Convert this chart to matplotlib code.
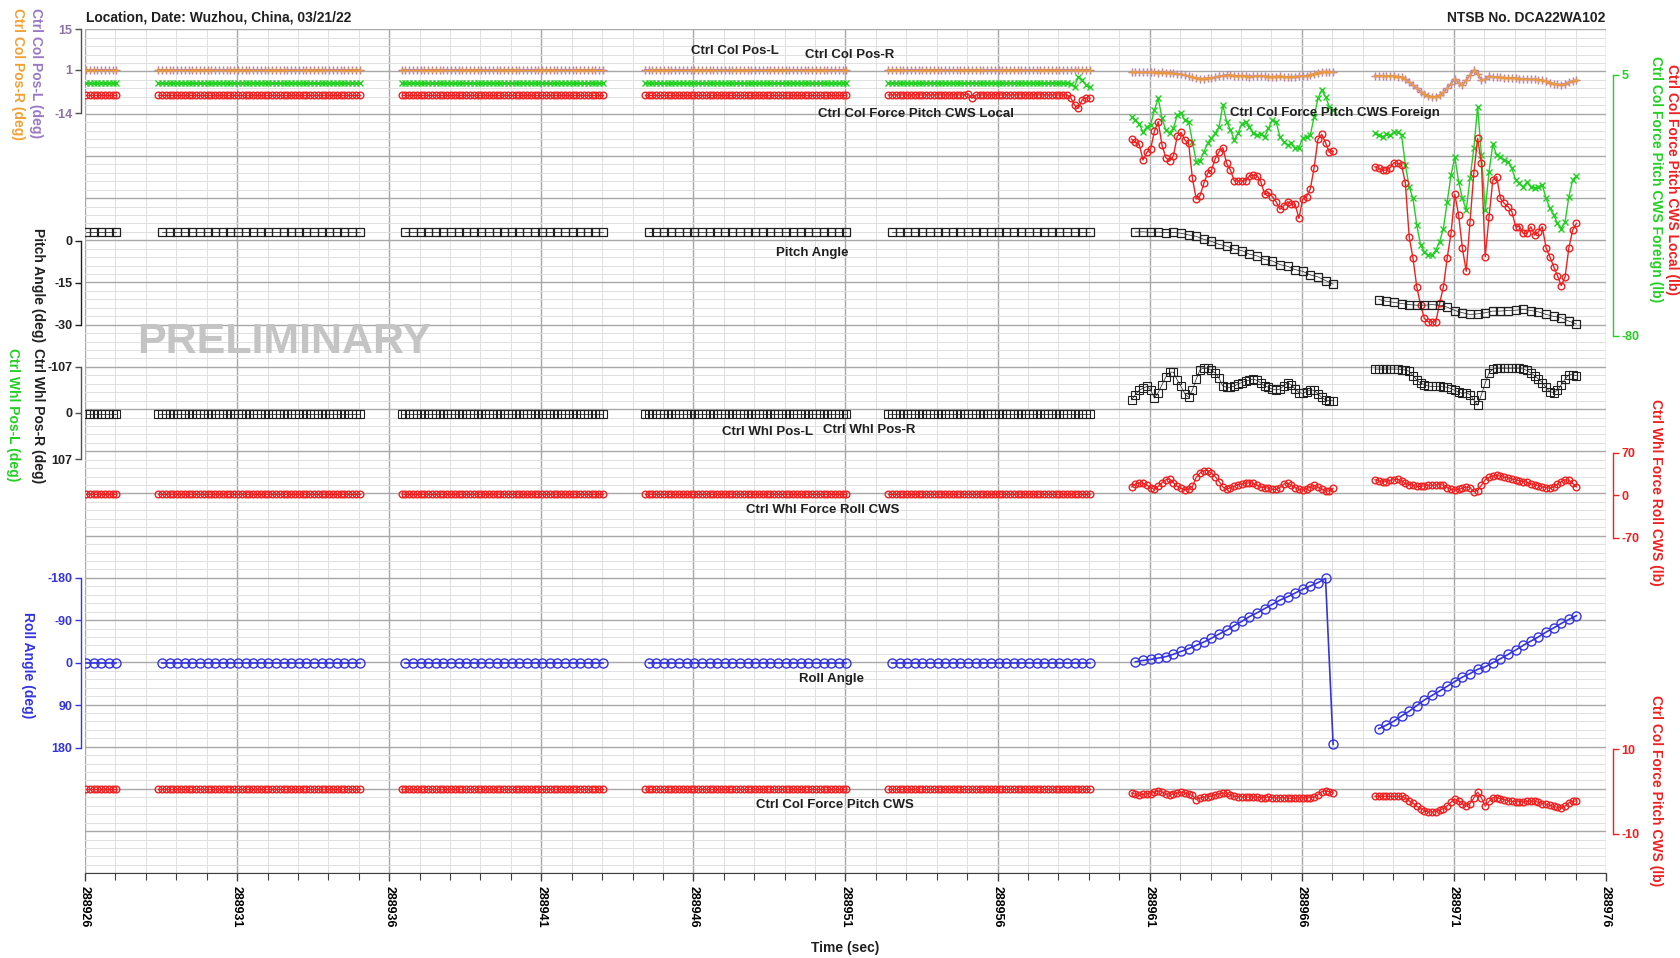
import numpy as np
import matplotlib
matplotlib.use("Agg")
import matplotlib.pyplot as plt
from matplotlib.ticker import MultipleLocator

plt.rcParams['font.family'] = ['Liberation Sans', 'DejaVu Sans']
plt.rcParams['font.weight'] = 'bold'

# ---------------- data ----------------
T_MIN, T_MAX = 288926, 288976
X_TICKS = list(range(288926, 288977, 5))
# end time of each recorded data block (7 blocks, first one clipped by the x-range)
SEG_END = [288927.03, 288935.03, 288943.03, 288951.03, 288959.03, 288967.03, 288975.03]
N8_FLAT = [9, 54, 54, 54, 54]      # 8 Hz samples in blocks A-E
N4_FLAT = [5, 27, 27, 27, 27]      # 4 Hz samples in blocks A-E

# constant levels in the quiet blocks A-E
COLPOS_FLAT = 0.8
LOCAL_FLAT = -1.5
FOREIGN_FLAT = 2.3
PITCH_FLAT = 2.9
WHLPOS_FLAT = 1.5
WHLF_FLAT = 2.5
ROLL_FLAT = 0.0
COLCWS_FLAT = 0.45

# block E with small disturbances (8 Hz)
LOCAL_E = [LOCAL_FLAT] * 21 + [-1.1, -2.6] + [LOCAL_FLAT] * 25 + [-2.4, -4.8, -5.8, -3.1, -2.4, -2.6]
FOREIGN_E = [FOREIGN_FLAT] * 48 + [2.0, 1.2, 4.5, 3.4, 1.8, 1.2]

# Ctrl Col Pos-L / -R (deg), 8 Hz, blocks F and G
COLPOS_F = [0.2, 0.3, 0.2, 0.1, 0.2, 0.3, 0.2, 0.0, 0.1, 0.0,
            -0.1, -0.2, -0.3, -0.5, -0.8, -1.2, -1.6, -1.9, -2.0, -2.0,
            -1.9, -1.8, -1.6, -1.2, -1.0, -0.8, -0.9, -1.0, -1.1, -1.0,
            -1.2, -1.3, -1.2, -1.1, -1.0, -1.2, -1.3, -1.4, -1.3, -1.2,
            -1.4, -1.5, -1.4, -1.3, -1.2, -1.1, -1.0, -0.8, -0.4, 0.0,
            0.3, 0.4, 0.3, 0.2]
COLPOS_G = [-1.0, -1.1, -1.0, -1.2, -1.1, -1.2, -1.3, -1.5, -2.2, -3.2,
            -4.3, -5.4, -6.5, -7.4, -8.0, -8.3, -8.2, -7.8, -6.8, -5.4,
            -3.8, -2.0, -3.4, -4.3, -2.6, -0.8, 0.8, -0.4, -2.6, -2.2,
            -1.2, -1.4, -1.5, -1.6, -1.7, -1.8, -1.8, -1.9, -2.0, -2.1,
            -2.2, -2.3, -2.3, -2.4, -2.6, -3.0, -3.4, -3.8, -4.0, -4.1,
            -3.8, -3.3, -2.9, -2.6]

# Ctrl Col Force Pitch CWS Local / Foreign (lb), 8 Hz
LOCAL_F = [-15.9, -16.9, -17.6, -22.7, -20.2, -19.1, -13.3, -10.2, -17.8, -21.9,
           -23.0, -21.3, -14.9, -13.7, -16.2, -17.3, -28.7, -35.4, -34.3, -30.3,
           -27.0, -26.0, -22.2, -20.0, -18.7, -23.8, -26.0, -29.5, -29.5, -29.5,
           -29.5, -27.8, -27.6, -27.8, -29.8, -33.9, -33.2, -34.6, -36.3, -38.7,
           -37.6, -36.3, -37.0, -37.1, -41.7, -35.4, -34.6, -32.1, -25.2, -16.0,
           -14.3, -17.0, -20.2, -19.8]
FOREIGN_F = [-8.6, -9.7, -10.8, -13.7, -11.8, -11.3, -6.4, -2.6, -9.1, -12.9,
             -14.0, -12.4, -8.0, -7.5, -9.7, -10.2, -16.7, -23.2, -23.0, -20.0,
             -17.3, -15.6, -14.0, -11.8, -4.8, -10.2, -12.9, -16.2, -14.0, -10.8,
             -10.2, -11.8, -14.0, -14.6, -14.3, -15.1, -12.4, -9.7, -10.2, -15.1,
             -16.7, -17.8, -17.3, -18.9, -18.7, -15.6, -15.1, -14.6, -8.6, -2.6,
             0.1, -2.1, -5.3, -6.4]
LOCAL_G = [-24.9, -25.4, -26.0, -26.0, -25.2, -23.5, -23.8, -24.3, -30.3, -47.7,
           -54.7, -64.0, -69.9, -74.3, -75.4, -75.4, -75.4, -69.4, -64.0, -54.5,
           -46.6, -33.9, -40.6, -51.5, -58.9, -42.8, -27.0, -15.6, -23.8, -54.2,
           -41.2, -29.2, -28.1, -35.2, -36.8, -37.9, -39.5, -44.4, -44.4, -46.6,
           -46.6, -44.4, -47.1, -46.0, -44.4, -51.3, -54.2, -57.4, -60.4, -63.6,
           -60.7, -51.3, -45.5, -43.3]
FOREIGN_G = [-14.0, -14.6, -15.1, -14.3, -14.6, -13.7, -13.5, -14.6, -24.3, -31.4,
             -35.2, -43.9, -50.4, -52.6, -53.7, -53.7, -52.0, -49.3, -45.0, -36.3,
             -27.6, -21.6, -29.8, -35.2, -39.0, -28.7, -18.9, -5.3, -21.1, -39.0,
             -26.5, -17.6, -21.1, -21.6, -22.7, -23.2, -25.4, -29.2, -30.3, -31.4,
             -29.8, -31.4, -31.9, -31.4, -30.8, -35.2, -38.4, -40.6, -43.3, -45.0,
             -42.8, -34.6, -29.2, -27.8]

# Pitch Angle (deg), 4 Hz
PITCH_F = [3.0, 3.1, 2.9, 3.0, 2.8, 2.9, 2.6, 2.0, 1.5, 0.4,
           -0.3, -1.4, -2.0, -3.1, -3.6, -4.9, -5.5, -6.8, -7.3, -8.6,
           -9.2, -10.4, -11.0, -12.3, -13.0, -14.3, -15.6]
PITCH_G = [-21.1, -21.7, -22.1, -22.5, -22.9, -23.1, -23.1, -22.9, -23.1, -23.8,
           -25.0, -25.8, -26.4, -26.2, -25.8, -25.2, -25.2, -25.0, -24.9, -24.6,
           -25.0, -25.5, -26.4, -27.1, -27.6, -28.8, -29.8]

# Ctrl Whl Pos-R (deg), 8 Hz
WHLPOS_F = [-30, -42, -52, -57, -61, -53, -34, -47, -65, -83,
            -94, -94, -76, -61, -44, -36, -53, -78, -100, -103,
            -103, -98, -92, -80, -62, -59, -59, -62, -67, -70,
            -73, -76, -78, -75, -69, -62, -59, -55, -53, -55,
            -62, -69, -65, -55, -47, -45, -49, -53, -52, -44,
            -36, -30, -28, -28]
WHLPOS_G = [-101, -101, -101, -101, -101, -101, -101, -100, -99, -96,
            -86, -76, -69, -65, -62, -61, -61, -61, -60, -59,
            -56, -52, -48, -45, -47, -42, -30, -18, -42, -69,
            -92, -101, -103, -103, -103, -103, -103, -103, -103, -101,
            -98, -92, -86, -78, -70, -59, -49, -47, -52, -65,
            -78, -88, -88, -86]

# Ctrl Whl Force Roll CWS (lb), 8 Hz
WHLF_F = [14, 19, 21, 20, 17, 13, 10, 15, 21, 26,
          27, 21, 15, 12, 9, 10, 15, 30, 37, 41,
          41, 37, 31, 23, 14, 10, 13, 15, 18, 19,
          20, 21, 20, 17, 14, 13, 12, 10, 10, 13,
          19, 20, 17, 13, 10, 9, 11, 14, 17, 14,
          10, 8, 7, 12]
WHLF_G = [26, 24, 22, 23, 25, 26, 27, 24, 20, 18,
          17, 15, 15, 16, 17, 17, 17, 18, 17, 13,
          10, 9, 10, 12, 14, 13, 6, 8, 17, 26,
          30, 32, 33, 32, 30, 29, 27, 26, 24, 23,
          22, 19, 17, 16, 14, 13, 12, 14, 19, 23,
          26, 25, 20, 14]

# Roll Angle (deg), 4 Hz
ROLL_F = [-2, -5, -7, -10, -13, -18, -24, -30, -37, -44,
          -52, -61, -69, -79, -88, -98, -106, -115, -124, -133,
          -140, -148, -156, -163, -170, -179, 173.5]
ROLL_G = [140, 132.5, 124, 113, 103, 91, 79, 69.5, 60, 50,
          40, 30.5, 23, 14, 8.5, 0, -8.5, -17.6, -27, -37,
          -46, -55, -65, -74, -83.5, -92, -100]

# Ctrl Col Force Pitch CWS (lb), 8 Hz
COLCWS_F = [-0.4, -0.7, -1.0, -0.7, -0.6, -0.6, -0.2, 0.1, -0.2, -0.6,
            -1.0, -0.6, -0.4, -0.2, -0.4, -0.7, -1.0, -2.0, -1.6, -1.4,
            -1.3, -1.2, -0.8, -0.6, -0.4, -0.5, -1.0, -1.2, -1.3, -1.3,
            -1.4, -1.4, -1.3, -1.4, -1.5, -1.5, -1.4, -1.5, -1.6, -1.6,
            -1.5, -1.6, -1.7, -1.6, -1.6, -1.5, -1.6, -1.5, -1.4, -0.8,
            -0.1, 0.1, -0.1, -0.4]
COLCWS_G = [-1.2, -1.2, -1.2, -1.2, -1.2, -1.2, -1.2, -1.2, -1.6, -2.3,
            -2.8, -3.6, -4.1, -4.6, -4.9, -4.9, -4.8, -4.5, -4.1, -3.4,
            -2.6, -1.8, -2.3, -3.0, -3.5, -2.9, -1.6, -0.2, -1.6, -3.5,
            -2.4, -1.5, -1.6, -1.8, -2.0, -2.2, -2.4, -2.5, -2.5, -2.5,
            -2.4, -2.3, -2.4, -2.6, -2.9, -3.1, -3.3, -3.6, -3.8, -4.0,
            -3.5, -2.7, -2.4, -2.3]

# ---------------- figure ----------------
W, H = 1681, 958
fig = plt.figure(figsize=(W / 100, H / 100), dpi=100)
PX_L, PX_R, PX_T, PX_B = 85.0, 1606.0, 29.3, 873.3
RECT = [PX_L / W, 1 - PX_B / H, (PX_R - PX_L) / W, (PX_B - PX_T) / H]


def fx(px):
    return px / W


def fy(py):
    return 1 - py / H


PURPLE = '#a070d0'
ORANGE = '#f5a030'
GREEN = '#22d022'
RED = '#f02020'
BLUE = '#3434e0'

ax = fig.add_axes(RECT)
ax.set_xlim(T_MIN, T_MAX)
ax.set_ylim(0, 20)
ax.xaxis.set_minor_locator(MultipleLocator(1))
ax.yaxis.set_major_locator(MultipleLocator(1))
ax.yaxis.set_minor_locator(MultipleLocator(0.2))
ax.set_xticks(X_TICKS, [str(t) for t in X_TICKS], rotation=270, ha='center', va='top',
              fontsize=9, fontweight='bold')
ax.grid(which='major', color='#a8a8a8', lw=1.0)
ax.grid(which='minor', color='#e0e0e0', lw=0.7)
ax.set_axisbelow(True)
for s in ['left', 'right', 'top']:
    ax.spines[s].set_visible(False)
ax.spines['bottom'].set_color('#404040')
ax.tick_params(axis='y', which='both', left=False, labelleft=False)
ax.tick_params(axis='x', which='major', length=6, width=1, color='#404040', pad=3)
ax.tick_params(axis='x', which='minor', length=5, width=0.8, color='#404040')


def band_axes(v1, p1, v2, p2, side, spine_color, label_color, ticks, offset):
    a = fig.add_axes(RECT)
    a.patch.set_visible(False)
    a.set_xlim(T_MIN, T_MAX)
    s = (v2 - v1) / (p2 - p1)
    a.set_ylim(v1 + (PX_B - p1) * s, v1 + (PX_T - p1) * s)
    for k in a.spines:
        a.spines[k].set_visible(False)
    sp = a.spines[side]
    sp.set_visible(True)
    sp.set_bounds(min(v1, v2), max(v1, v2))
    sp.set_position(('outward', offset))
    sp.set_color(spine_color)
    sp.set_linewidth(1.0)
    a.yaxis.set_ticks_position(side)
    a.set_yticks(ticks, [str(t) for t in ticks], fontsize=9, fontweight='bold')
    a.tick_params(axis='y', color=spine_color, labelcolor=label_color, length=4, width=1, pad=2)
    a.tick_params(axis='x', which='both', bottom=False, labelbottom=False)
    return a


def times(end, n, hz):
    return end - (n - 1 - np.arange(n)) / hz


def plot_series(a, blocks, hz, **kw):
    for end, vals in zip(SEG_END, blocks):
        a.plot(times(end, len(vals), hz), vals, **kw)


def flat_blocks(level, counts):
    return [[level] * n for n in counts]


a_colpos = band_axes(15, 29.3, -14, 113.3, 'left', '#505050', '#8c72aa', [15, 1, -14], 3)
a_force = band_axes(5, 75.0, -80, 336.0, 'right', GREEN, GREEN, [5, -80], 5)
a_pitch = band_axes(0, 240.5, -30, 324.5, 'left', '#202020', '#202020', [0, -15, -30], 3)
a_whl = band_axes(-107, 366.5, 107, 459.3, 'left', '#505050', '#202020', [-107, 0, 107], 3)
a_whlf = band_axes(70, 453.0, -70, 538.0, 'right', RED, RED, [70, 0, -70], 5)
a_roll = band_axes(-180, 578.0, 180, 747.5, 'left', BLUE, BLUE, [-180, -90, 0, 90, 180], 3)
a_cws = band_axes(10, 749.0, -10, 833.5, 'right', RED, RED, [10, -10], 5)

# column position
colpos = flat_blocks(COLPOS_FLAT, N8_FLAT) + [COLPOS_F, COLPOS_G]
plot_series(a_colpos, colpos, 8, color=PURPLE, lw=1.3, marker='+', ms=6, mew=1.0, zorder=3)
plot_series(a_colpos, colpos, 8, color=ORANGE, lw=0.8, marker='+', ms=5, mew=1.0, alpha=0.8, zorder=4)

# column forces local/foreign
foreign = flat_blocks(FOREIGN_FLAT, N8_FLAT[:4]) + [FOREIGN_E, FOREIGN_F, FOREIGN_G]
local = flat_blocks(LOCAL_FLAT, N8_FLAT[:4]) + [LOCAL_E, LOCAL_F, LOCAL_G]
plot_series(a_force, foreign, 8, color=GREEN, lw=1.0, marker='x', ms=5, mew=1.0, zorder=3)
plot_series(a_force, local, 8, color=RED, lw=1.0, marker='o', ms=4.8, mew=1.0, mfc='none', zorder=4)

# pitch
pitch = flat_blocks(PITCH_FLAT, N4_FLAT) + [PITCH_F, PITCH_G]
plot_series(a_pitch, pitch, 4, color='#202020', lw=0.5, marker='s', ms=5.5, mew=0.9, mfc='none')

# wheel position
whl = flat_blocks(WHLPOS_FLAT, N8_FLAT) + [WHLPOS_F, WHLPOS_G]
plot_series(a_whl, whl, 8, color='#202020', lw=0.5, marker='s', ms=5.5, mew=0.8, mfc='none')

# wheel force
whlf = flat_blocks(WHLF_FLAT, N8_FLAT) + [WHLF_F, WHLF_G]
plot_series(a_whlf, whlf, 8, color=RED, lw=0.9, marker='o', ms=4.8, mew=1.0, mfc='none')

# roll
roll = flat_blocks(ROLL_FLAT, N4_FLAT) + [ROLL_F, ROLL_G]
plot_series(a_roll, roll, 4, color=BLUE, lw=1.2, marker='o', ms=6.5, mew=1.0, mfc='none')

# column force CWS
cws = flat_blocks(COLCWS_FLAT, N8_FLAT) + [COLCWS_F, COLCWS_G]
plot_series(a_cws, cws, 8, color=RED, lw=0.9, marker='o', ms=4.8, mew=1.0, mfc='none')

# ---------------- texts ----------------
fig.text(fx(86), fy(18), 'Location, Date: Wuzhou, China, 03/21/22', ha='left', va='center',
         fontsize=10, fontweight='bold', color='#202020')
fig.text(fx(1605), fy(18), 'NTSB No. DCA22WA102', ha='right', va='center',
         fontsize=10, fontweight='bold', color='#202020')
fig.text(fx(845), fy(948), 'Time (sec)', ha='center', va='center', fontsize=10,
         fontweight='bold', color='#202020')
fig.text(fx(284), fy(342), 'PRELIMINARY', ha='center', va='center', fontsize=31,
         fontweight='bold', color='#c4c4c4', zorder=0)

inplot = [
    ('Ctrl Col Pos-L', 735, 51.5),
    ('Ctrl Col Pos-R', 850, 55),
    ('Ctrl Col Force Pitch CWS Local', 916, 114),
    ('Ctrl Col Force Pitch CWS Foreign', 1335, 113),
    ('Pitch Angle', 812, 253),
    ('Ctrl Whl Pos-L', 768, 432),
    ('Ctrl Whl Pos-R', 869, 430),
    ('Ctrl Whl Force Roll CWS', 823, 510),
    ('Roll Angle', 832, 679),
    ('Ctrl Col Force Pitch CWS', 835, 805),
]
for txt, px, py in inplot:
    fig.text(fx(px), fy(py), txt, ha='center', va='center', fontsize=9.5,
             fontweight='bold', color='#202020', zorder=10)

ylabels = [
    ('Ctrl Col Pos-L (deg)', 36, 8, 'top', '#9b78c4'),
    ('Ctrl Col Pos-R (deg)', 18, 8, 'top', ORANGE),
    ('Pitch Angle (deg)', 38, 228, 'top', '#202020'),
    ('Ctrl Whl Pos-R (deg)', 38, 483, 'bottom', '#202020'),
    ('Ctrl Whl Pos-L (deg)', 13, 348, 'top', GREEN),
    ('Roll Angle (deg)', 28, 612, 'top', BLUE),
    ('Ctrl Col Force Pitch CWS Local (lb)', 1672, 64, 'top', RED),
    ('Ctrl Col Force Pitch CWS Foreign (lb)', 1656, 56, 'top', GREEN),
    ('Ctrl Whl Force Roll CWS (lb)', 1656, 399, 'top', RED),
    ('Ctrl Col Force Pitch CWS (lb)', 1656, 695, 'top', RED),
]
for txt, px, py, va, col in ylabels:
    fig.text(fx(px), fy(py), txt, rotation=270, ha='center', va=va, fontsize=10,
             fontweight='bold', color=col)

fig.savefig('out.png', dpi=100)
